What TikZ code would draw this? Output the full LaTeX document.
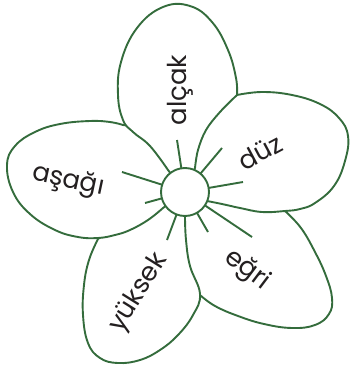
\documentclass[tikz,border=0pt]{standalone}
\usepackage{fontspec}
\setmainfont{Poppins}
\definecolor{leaf}{RGB}{52,108,60}
\definecolor{ink}{RGB}{35,31,32}
\begin{document}
\begin{tikzpicture}[x=1pt,y=-1pt,
  petal/.style={draw=leaf, fill=white, line width=1.9pt, line join=round},
  ray/.style={draw=leaf, line width=1.9pt},
  word/.style={text=ink, font=\fontsize{26}{26}\selectfont, inner sep=0pt}]
\useasboundingbox (0,0) rectangle (350,369);
\coordinate (C) at (185,192);
% egri petal (bottom layer)
\filldraw[petal] (C) -- plot[smooth, tension=0.6] coordinates {(230,196) (262,205) (285,211)}
  -- plot[smooth, tension=0.7] coordinates {(285,211) (301,228) (315,252) (326,276) (332,298) (329,314) (315,325) (292,328) (264,324) (238,316) (215,306) (200,295)}
  -- plot[smooth, tension=0.6] coordinates {(200,295) (188,268) (180,235)} -- cycle;
% right petal (duz)
\filldraw[petal] (C) -- plot[smooth, tension=0.6] coordinates {(193,140) (215,110) (237,95)}
  -- plot[smooth, tension=0.7] coordinates {(237,95) (262,92) (292,95) (320,104) (339,118) (348,136) (345,161) (334,186) (315,203) (300,209) (285,211) (262,212) (240,208) (222,204) (207,201)} -- cycle;
% yuksek petal
\filldraw[petal] (C) -- plot[smooth, tension=0.7] coordinates {(185,217) (186,240) (190,266) (200,294) (193,315) (178,335) (160,350) (140,360) (118,363) (100,358) (88,343) (83,315) (84,285) (89,260) (98,239)}
  -- plot[smooth, tension=0.6] coordinates {(98,239) (115,229) (150,214)} -- cycle;
% left petal (asagi)
\filldraw[petal] (C) -- plot[smooth, tension=0.7] coordinates {(163,208) (148,220) (130,230) (115,235) (98,238) (78,237) (55,230) (30,214) (13,192) (7,165) (15,146) (35,132) (60,124) (90,121) (110,122) (123,125)}
  -- plot[smooth, tension=0.6] coordinates {(123,125) (150,133) (175,160)} -- cycle;
% top petal (alcak)
\filldraw[petal] (C) -- plot[smooth, tension=0.7] coordinates {(168,170) (150,146) (133,132) (123,120) (118,95) (121,62) (137,28) (163,7) (190,6) (212,22) (228,50) (236,78) (237,95)}
  -- plot[smooth, tension=0.6] coordinates {(237,95) (220,112) (206,130) (198,150) (195,168)} -- cycle;
% rays
\foreach \p in {(122,172),(145,203),(167,240),(208,232),(252,237),(243,182),(222,148),(177,140)}
  \draw[ray] (C) -- \p;
% center disc
\filldraw[petal] (C) circle[radius=24];
% words
\node[word, rotate=90] (alcak) at (180,90) {alçak};
\node[word, rotate=28] (duz) at (260,152) {düz};
\node[word, rotate=-12] (asagi) at (68,181) {aşağı};
\node[word, rotate=58] (yuksek) at (139,293) {yüksek};
\node[word, rotate=-37] (egri) at (247,270) {eğri};
\end{tikzpicture}
\end{document}
